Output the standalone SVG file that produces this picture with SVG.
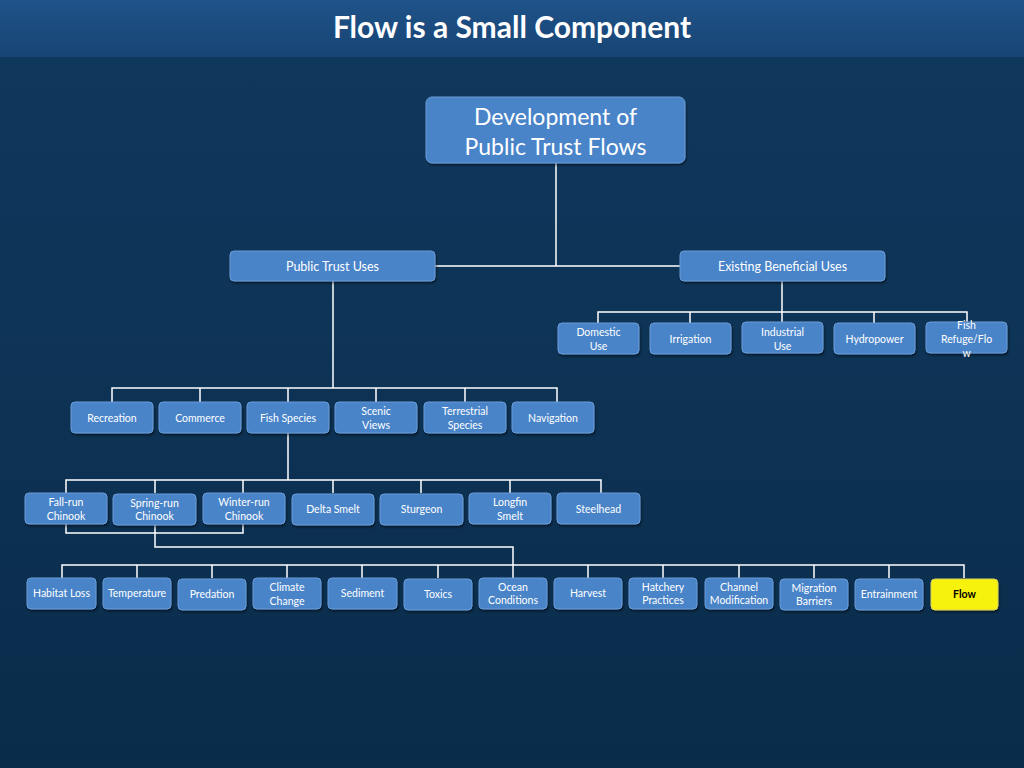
<svg xmlns="http://www.w3.org/2000/svg" width="1024" height="768" viewBox="0 0 1024 768">
<defs>
<linearGradient id="bg" x1="0" y1="0" x2="0" y2="1"><stop offset="0" stop-color="#10395e"/><stop offset="1" stop-color="#0a2c4b"/></linearGradient>
<linearGradient id="tb" x1="0" y1="0" x2="0" y2="1"><stop offset="0" stop-color="#1f5389"/><stop offset="1" stop-color="#174474"/></linearGradient>
<filter id="sh" x="-10%" y="-10%" width="130%" height="140%"><feDropShadow dx="1" dy="2" stdDeviation="1.2" flood-color="#000" flood-opacity="0.45"/></filter>
</defs>
<style>
.n rect{fill:#4a84c9;stroke:#6b9bd6;stroke-width:1;filter:url(#sh)}
.n text{fill:#fff;font-family:Lato,"Liberation Sans",sans-serif;font-size:10.5px;text-anchor:middle}
.y rect{fill:#f7f20a;stroke:#d8d060}
.y text{fill:#000;font-weight:bold}
#c path{stroke:#fff;stroke-width:1.5;fill:none}
</style>
<rect width="1024" height="768" fill="url(#bg)"/>
<rect width="1024" height="57" fill="url(#tb)"/>
<text x="512" y="38" fill="#fff" font-family="Lato,'Liberation Sans',sans-serif" font-weight="bold" font-size="30" text-anchor="middle">Flow is a Small Component</text>
<g id="c">
<path d="M556 163V266M435 266H680"/>
<path d="M782 281V312M598 323V312H967V322M690 312V323M782 312V323M874 312V323"/>
<path d="M333 281V388M112 402V388H557V402M200 388V402M288 388V402M376 388V402M465 388V402"/>
<path d="M288 433V480M66 493V480H601V493M155 480V493M243 480V493M333 480V493M421 480V493M510 480V493"/>
<path d="M66 524V533H243V524M155 524V547H513V565M62 578V565H964V578M137 565V578M212 565V578M287 565V578M362 565V578M438 565V578M513 565V578M588 565V578M663 565V578M739 565V578M814 565V578M889 565V578"/>
</g>
<g id="root" class="n"><rect x="426" y="97" width="259" height="66" rx="6"/><text x="555.5" y="125" font-size="23" style="font-size:23px">Development of</text><text x="555.5" y="155" style="font-size:23px">Public Trust Flows</text></g>
<g id="ptu" class="n"><rect x="230" y="251" width="205" height="30" rx="4"/><text x="332.5" y="271" style="font-size:12.5px">Public Trust Uses</text></g>
<g id="ebu" class="n"><rect x="680" y="251" width="205" height="30" rx="4"/><text x="782.5" y="271" style="font-size:12.5px">Existing Beneficial Uses</text></g>
<g id="domestic" class="n"><rect x="558" y="323" width="81" height="31" rx="4"/><text x="598.5" y="336">Domestic</text><text x="598.5" y="350">Use</text></g>
<g id="irrigation" class="n"><rect x="650" y="323" width="81" height="31" rx="4"/><text x="690.5" y="343">Irrigation</text></g>
<g id="industrial" class="n"><rect x="742" y="322" width="81" height="31" rx="4"/><text x="782.5" y="336">Industrial</text><text x="782.5" y="350">Use</text></g>
<g id="hydropower" class="n"><rect x="834" y="323" width="81" height="31" rx="4"/><text x="874.5" y="343">Hydropower</text></g>
<g id="fishrefuge" class="n"><rect x="926" y="322" width="81" height="31" rx="4"/><text x="966.5" y="329">Fish</text><text x="966.5" y="343">Refuge/Flo</text><text x="966.5" y="357">w</text></g>
<g id="recreation" class="n"><rect x="71" y="402" width="82" height="31" rx="4"/><text x="112" y="422">Recreation</text></g>
<g id="commerce" class="n"><rect x="159" y="402" width="82" height="31" rx="4"/><text x="200" y="422">Commerce</text></g>
<g id="fishspecies" class="n"><rect x="247" y="402" width="82" height="31" rx="4"/><text x="288" y="422">Fish Species</text></g>
<g id="scenic" class="n"><rect x="335" y="402" width="82" height="31" rx="4"/><text x="376" y="415">Scenic</text><text x="376" y="429">Views</text></g>
<g id="terrestrial" class="n"><rect x="424" y="402" width="82" height="31" rx="4"/><text x="465" y="415">Terrestrial</text><text x="465" y="429">Species</text></g>
<g id="navigation" class="n"><rect x="512" y="402" width="82" height="31" rx="4"/><text x="553" y="422">Navigation</text></g>
<g id="fallrun" class="n"><rect x="25" y="493" width="82" height="31" rx="4"/><text x="66" y="506">Fall-run</text><text x="66" y="520">Chinook</text></g>
<g id="springrun" class="n"><rect x="113" y="494" width="83" height="31" rx="4"/><text x="154.5" y="507">Spring-run</text><text x="154.5" y="520">Chinook</text></g>
<g id="winterrun" class="n"><rect x="203" y="493" width="82" height="31" rx="4"/><text x="244" y="506">Winter-run</text><text x="244" y="520">Chinook</text></g>
<g id="deltasmelt" class="n"><rect x="292" y="494" width="82" height="31" rx="4"/><text x="333" y="513">Delta Smelt</text></g>
<g id="sturgeon" class="n"><rect x="380" y="494" width="83" height="31" rx="4"/><text x="421.5" y="513">Sturgeon</text></g>
<g id="longfin" class="n"><rect x="469" y="493" width="82" height="31" rx="4"/><text x="510" y="506">Longfin</text><text x="510" y="520">Smelt</text></g>
<g id="steelhead" class="n"><rect x="557" y="493" width="83" height="31" rx="4"/><text x="598.5" y="513">Steelhead</text></g>
<g id="habitat" class="n"><rect x="27" y="578" width="69" height="31" rx="4"/><text x="61.5" y="597">Habitat Loss</text></g>
<g id="temperature" class="n"><rect x="103" y="578" width="68" height="31" rx="4"/><text x="137" y="597">Temperature</text></g>
<g id="predation" class="n"><rect x="178" y="579" width="68" height="31" rx="4"/><text x="212" y="598">Predation</text></g>
<g id="climate" class="n"><rect x="253" y="578" width="68" height="31" rx="4"/><text x="287" y="591">Climate</text><text x="287" y="605">Change</text></g>
<g id="sediment" class="n"><rect x="328" y="578" width="69" height="31" rx="4"/><text x="362.5" y="597">Sediment</text></g>
<g id="toxics" class="n"><rect x="404" y="579" width="68" height="31" rx="4"/><text x="438" y="598">Toxics</text></g>
<g id="ocean" class="n"><rect x="479" y="578" width="68" height="31" rx="4"/><text x="513" y="591">Ocean</text><text x="513" y="604">Conditions</text></g>
<g id="harvest" class="n"><rect x="554" y="578" width="68" height="31" rx="4"/><text x="588" y="597">Harvest</text></g>
<g id="hatchery" class="n"><rect x="629" y="578" width="68" height="31" rx="4"/><text x="663" y="591">Hatchery</text><text x="663" y="604">Practices</text></g>
<g id="channel" class="n"><rect x="705" y="578" width="68" height="31" rx="4"/><text x="739" y="591">Channel</text><text x="739" y="604">Modification</text></g>
<g id="migration" class="n"><rect x="780" y="579" width="68" height="31" rx="4"/><text x="814" y="592">Migration</text><text x="814" y="605">Barriers</text></g>
<g id="entrainment" class="n"><rect x="855" y="579" width="68" height="31" rx="4"/><text x="889" y="598">Entrainment</text></g>
<g id="flow" class="n y"><rect x="931" y="579" width="67" height="31" rx="4"/><text x="964.5" y="598">Flow</text></g>
</svg>
